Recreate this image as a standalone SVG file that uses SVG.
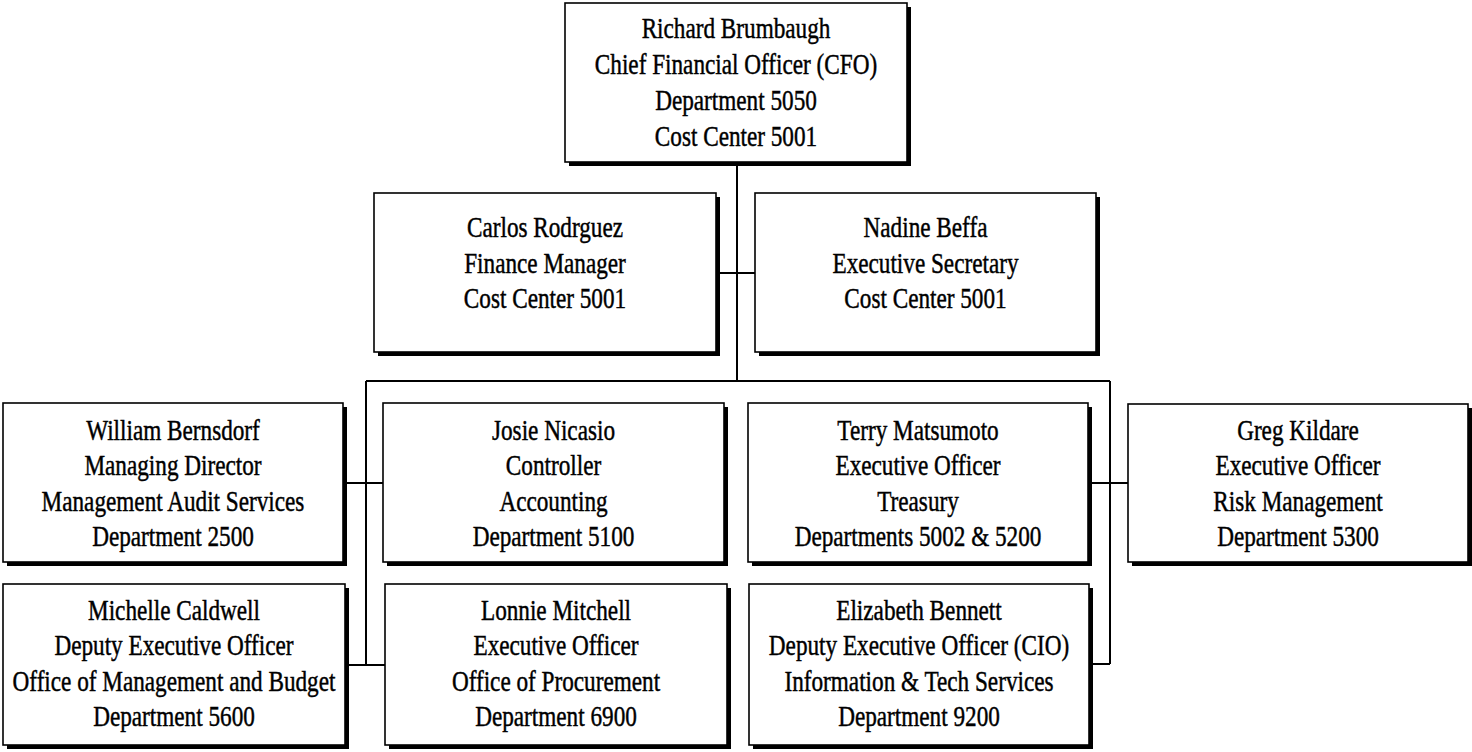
<svg xmlns="http://www.w3.org/2000/svg" width="1472" height="752" viewBox="0 0 1472 752">
<style>
.bg{fill:#ffffff}
.sh{fill:#000000}
.bx{fill:#ffffff;stroke:#000000;stroke-width:1.6}
.ln{fill:none;stroke:#000000;stroke-width:2}
.t{font-family:"Liberation Serif","Times New Roman",serif;font-size:29px;fill:#000000;stroke:#000000;stroke-width:0.45;text-anchor:middle}
</style>
<rect class="bg" x="0" y="0" width="1472" height="752"/>
<g id="connectors">
<path class="ln" d="M737 162 V381"/>
<path class="ln" d="M716 273 H755"/>
<path class="ln" d="M366 381 H1110"/>
<path class="ln" d="M366 381 V665"/>
<path class="ln" d="M343 483 H383"/>
<path class="ln" d="M345 665 H385"/>
<path class="ln" d="M1110 381 V664"/>
<path class="ln" d="M1088 483 H1128"/>
<path class="ln" d="M1089 664 H1110"/>
</g>
<g id="cfo">
<rect class="sh" x="569" y="7" width="342" height="159"/>
<rect class="bx" x="565" y="3" width="342" height="159"/>
<g transform="translate(736,0) scale(0.8,1)">
<text class="t" x="0" y="38">Richard Brumbaugh</text>
<text class="t" x="0" y="74">Chief Financial Officer (CFO)</text>
<text class="t" x="0" y="110">Department 5050</text>
<text class="t" x="0" y="146">Cost Center 5001</text>
</g>
</g>
<g id="carlos">
<rect class="sh" x="378" y="197" width="342" height="159"/>
<rect class="bx" x="374" y="193" width="342" height="159"/>
<g transform="translate(545,0) scale(0.8,1)">
<text class="t" x="0" y="237">Carlos Rodrguez</text>
<text class="t" x="0" y="273">Finance Manager</text>
<text class="t" x="0" y="308">Cost Center 5001</text>
</g>
</g>
<g id="nadine">
<rect class="sh" x="759" y="197" width="341" height="159"/>
<rect class="bx" x="755" y="193" width="341" height="159"/>
<g transform="translate(925.5,0) scale(0.8,1)">
<text class="t" x="0" y="237">Nadine Beffa</text>
<text class="t" x="0" y="273">Executive Secretary</text>
<text class="t" x="0" y="308">Cost Center 5001</text>
</g>
</g>
<g id="william">
<rect class="sh" x="7" y="407" width="340" height="159"/>
<rect class="bx" x="3" y="403" width="340" height="159"/>
<g transform="translate(173,0) scale(0.8,1)">
<text class="t" x="0" y="440">William Bernsdorf</text>
<text class="t" x="0" y="475.5">Managing Director</text>
<text class="t" x="0" y="511">Management Audit Services</text>
<text class="t" x="0" y="546.5">Department 2500</text>
</g>
</g>
<g id="josie">
<rect class="sh" x="387" y="407" width="341" height="159"/>
<rect class="bx" x="383" y="403" width="341" height="159"/>
<g transform="translate(553.5,0) scale(0.8,1)">
<text class="t" x="0" y="440">Josie Nicasio</text>
<text class="t" x="0" y="475.5">Controller</text>
<text class="t" x="0" y="511">Accounting</text>
<text class="t" x="0" y="546.5">Department 5100</text>
</g>
</g>
<g id="terry">
<rect class="sh" x="752" y="407" width="340" height="159"/>
<rect class="bx" x="748" y="403" width="340" height="159"/>
<g transform="translate(918,0) scale(0.8,1)">
<text class="t" x="0" y="440">Terry Matsumoto</text>
<text class="t" x="0" y="475.5">Executive Officer</text>
<text class="t" x="0" y="511">Treasury</text>
<text class="t" x="0" y="546.5">Departments 5002 &amp; 5200</text>
</g>
</g>
<g id="greg">
<rect class="sh" x="1132" y="408" width="340" height="158"/>
<rect class="bx" x="1128" y="404" width="340" height="158"/>
<g transform="translate(1298,0) scale(0.8,1)">
<text class="t" x="0" y="440">Greg Kildare</text>
<text class="t" x="0" y="475.5">Executive Officer</text>
<text class="t" x="0" y="511">Risk Management</text>
<text class="t" x="0" y="546.5">Department 5300</text>
</g>
</g>
<g id="michelle">
<rect class="sh" x="7" y="588" width="342" height="161"/>
<rect class="bx" x="3" y="584" width="342" height="161"/>
<g transform="translate(174,0) scale(0.8,1)">
<text class="t" x="0" y="620">Michelle Caldwell</text>
<text class="t" x="0" y="655.5">Deputy Executive Officer</text>
<text class="t" x="0" y="691">Office of Management and Budget</text>
<text class="t" x="0" y="726.5">Department 5600</text>
</g>
</g>
<g id="lonnie">
<rect class="sh" x="389" y="588" width="342" height="161"/>
<rect class="bx" x="385" y="584" width="342" height="161"/>
<g transform="translate(556,0) scale(0.8,1)">
<text class="t" x="0" y="620">Lonnie Mitchell</text>
<text class="t" x="0" y="655.5">Executive Officer</text>
<text class="t" x="0" y="691">Office of Procurement</text>
<text class="t" x="0" y="726.5">Department 6900</text>
</g>
</g>
<g id="elizabeth">
<rect class="sh" x="753" y="588" width="340" height="161"/>
<rect class="bx" x="749" y="584" width="340" height="161"/>
<g transform="translate(919,0) scale(0.8,1)">
<text class="t" x="0" y="620">Elizabeth Bennett</text>
<text class="t" x="0" y="655.5">Deputy Executive Officer (CIO)</text>
<text class="t" x="0" y="691">Information &amp; Tech Services</text>
<text class="t" x="0" y="726.5">Department 9200</text>
</g>
</g>
</svg>
